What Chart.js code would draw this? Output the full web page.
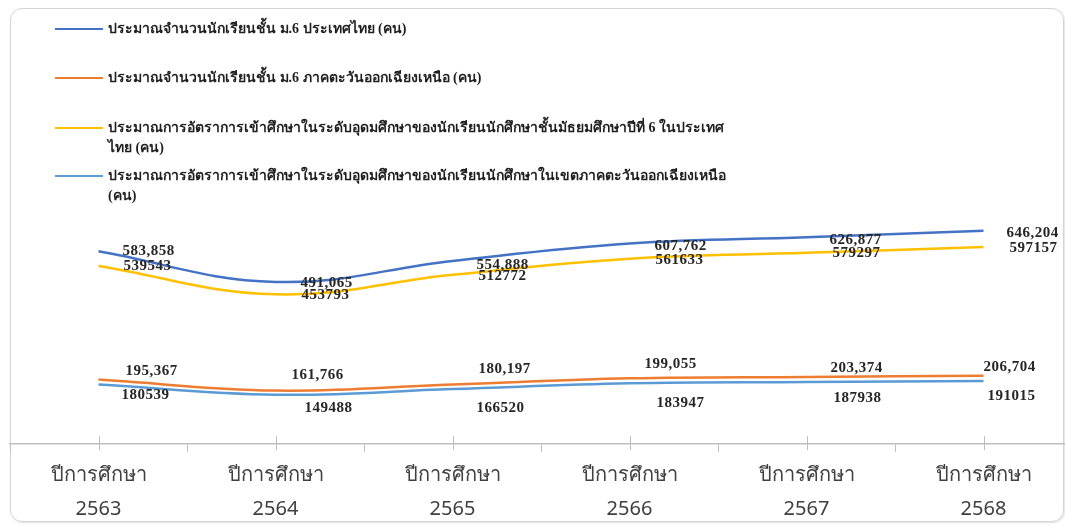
<!DOCTYPE html>
<html lang="th">
<head>
<meta charset="utf-8">
<title>ประมาณการจำนวนนักเรียน</title>
<script src="https://cdn.jsdelivr.net/npm/chart.js@4/dist/chart.umd.min.js"></script>
<style>
    html, body { margin: 0; padding: 0; background: #fff; overflow: hidden; }
    .frame {
        position: absolute; left: 10px; top: 8px; width: 1052px; height: 512px;
        border: 1.5px solid #d4d4d4; border-radius: 12px;
        box-shadow: 1px 1px 2px rgba(0,0,0,0.12);
    }
    #chart-wrap { position: absolute; left: 0; top: 0; width: 1080px; height: 532px; }
    #legend { position: absolute; left: 55px; top: 0; }
    .legend-item { position: absolute; left: 0; display: flex; align-items: flex-start; white-space: normal; }
    .legend-line { width: 48px; height: 0; border-top: 2.5px solid; margin-top: 9px; margin-right: 5px; flex: none; }
    .legend-text {
        width: 630px; font: bold 14px "Liberation Serif", "Noto Sans", serif;
        line-height: 20px; color: #1f1f1f;
    }
</style>
</head>
<body>
<div class="frame"></div>
<div id="chart-wrap"><canvas id="chart-students"></canvas></div>
<div id="legend"></div>
<script>
const years = ['2563', '2564', '2565', '2566', '2567', '2568'];
const yearPrefix = 'ปีการศึกษา';

// \u200B lets the long legend line break before "ไทย" as in the original
const seriesNames = [
    'ประมาณจำนวนนักเรียนชั้น ม.6 ประเทศไทย (คน)',
    'ประมาณจำนวนนักเรียนชั้น ม.6 ภาคตะวันออกเฉียงเหนือ (คน)',
    'ประมาณการอัตราการเข้าศึกษาในระดับอุดมศึกษาของนักเรียนนักศึกษาชั้นมัธยมศึกษาปีที่ 6 ในประเทศ\u200Bไทย (คน)',
    'ประมาณการอัตราการเข้าศึกษาในระดับอุดมศึกษาของนักเรียนนักศึกษาในเขตภาคตะวันออกเฉียงเหนือ (คน)',
];

const m6Thailand = [583858, 491065, 554888, 607762, 626877, 646204];
const m6Northeast = [195367, 161766, 180197, 199055, 203374, 206704];
const higherEdThailand = [539543, 453793, 512772, 561633, 579297, 597157];
const higherEdNortheast = [180539, 149488, 166520, 183947, 187938, 191015];

const colors = ['#4472C4', '#ED7D31', '#FFC000', '#5B9BD5'];
const useComma = [true, true, false, false];

// label offsets from each point (dx, dy), placed by hand like the original
const labelOffsets = [
    [[50, 0], [51, 1], [50, 4], [51, 3], [49, 3], [49, 2]],
    [[53, -8], [42, -15], [52, -15], [41, -14], [50, -9], [26, -9]],
    [[49, 0], [50, 1], [50, 1], [50, 1], [50, 0], [50, 1]],
    [[47, 11], [53, 13], [48, 19], [51, 20], [51, 16], [28, 15]],
];

// legend rows (top of each item)
const legendTops = [19, 68, 118, 166];

const numberFormatter = new Intl.NumberFormat('en-US');

const valueLabels = {
    id: 'valueLabels',
    afterDatasetsDraw(chart) {
        const ctx = chart.ctx;
        ctx.save();
        ctx.font = 'bold 15px "Liberation Serif", serif';
        ctx.fillStyle = '#262626';
        ctx.textAlign = 'center';
        ctx.textBaseline = 'middle';
        if ('letterSpacing' in ctx) ctx.letterSpacing = '0.5px';
        chart.data.datasets.forEach((ds, di) => {
            const meta = chart.getDatasetMeta(di);
            meta.data.forEach((pt, i) => {
                const v = ds.data[i];
                const text = useComma[di] ? numberFormatter.format(v) : String(v);
                const [dx, dy] = labelOffsets[di][i];
                ctx.fillText(text, pt.x + dx, pt.y + dy);
            });
        });
        ctx.restore();
    },
};

const centerTicks = {
    id: 'centerTicks',
    afterDraw(chart) {
        const x = chart.scales.x;
        const ctx = chart.ctx;
        ctx.save();
        ctx.strokeStyle = '#bfbfbf';
        ctx.lineWidth = 1;
        years.forEach((_, i) => {
            const px = Math.round(x.getPixelForValue(i)) + 0.5;
            ctx.beginPath();
            ctx.moveTo(px, x.top - 8);
            ctx.lineTo(px, x.top + 6);
            ctx.stroke();
        });
        ctx.restore();
    },
};

const seriesData = [m6Thailand, m6Northeast, higherEdThailand, higherEdNortheast];

const chart = new Chart(document.getElementById('chart-students'), {
    type: 'line',
    data: {
        labels: years.map((y) => [yearPrefix, y]),
        datasets: seriesData.map((data, i) => ({
            label: seriesNames[i],
            data,
            borderColor: colors[i],
            backgroundColor: colors[i],
            borderWidth: 2.5,
            tension: 0.4,
            pointRadius: 0,
            fill: false,
        })),
    },
    options: {
        responsive: true,
        maintainAspectRatio: false,
        animation: false,
        layout: { padding: { left: 10, right: 8, top: 180, bottom: 0 } },
        plugins: { legend: { display: false }, tooltip: { enabled: false } },
        scales: {
            x: {
                offset: true,
                grid: { offset: true, drawOnChartArea: false, tickLength: 8, color: '#bfbfbf' },
                border: { color: '#bfbfbf', width: 1.5 },
                ticks: {
                    color: '#404040',
                    padding: 6,
                    maxRotation: 0,
                    font: { family: '"Noto Sans", sans-serif', size: 20, lineHeight: 1.7 },
                },
            },
            y: { display: false, min: 0, max: 800000 },
        },
    },
    plugins: [valueLabels, centerTicks],
});

// html legend built from datasets
const legend = document.getElementById('legend');
chart.data.datasets.forEach((ds, i) => {
    const item = document.createElement('div');
    item.className = 'legend-item';
    item.style.top = `${legendTops[i]}px`;
    const line = document.createElement('span');
    line.className = 'legend-line';
    line.style.borderTopColor = ds.borderColor;
    const text = document.createElement('span');
    text.className = 'legend-text';
    text.textContent = ds.label;
    item.appendChild(line);
    item.appendChild(text);
    legend.appendChild(item);
});
</script>
</body>
</html>
